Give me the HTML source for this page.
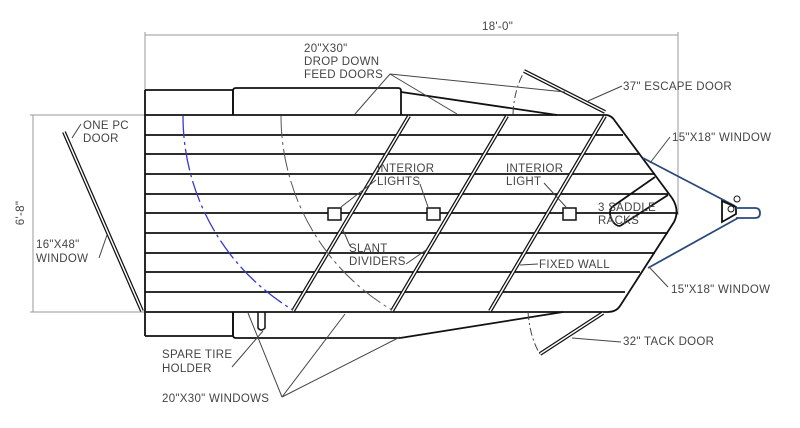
<!DOCTYPE html>
<html><head><meta charset="utf-8"><style>
html,body{margin:0;padding:0;background:#fff;}
svg{display:block;}
text{font-family:"Liberation Sans",sans-serif;font-size:11.5px;fill:#444;letter-spacing:0.3px;}
</style></head><body>
<svg width="800" height="428" viewBox="0 0 800 428" xmlns="http://www.w3.org/2000/svg">
<rect width="800" height="428" fill="#fff"/>
<g stroke="#999" stroke-width="1" fill="none">
<line x1="145" y1="35" x2="678" y2="35"/>
<line x1="145" y1="32" x2="145" y2="90"/>
<line x1="678" y1="32" x2="678" y2="215"/>
<line x1="33" y1="115" x2="33" y2="312"/>
<line x1="30" y1="115" x2="145" y2="115"/>
<line x1="30" y1="312" x2="145" y2="312"/>
</g>
<text x="482" y="30" font-size="14">18'-0"</text>
<text transform="translate(24,213) rotate(-90)" text-anchor="middle" font-size="14">6'-8"</text>
<g stroke="#111" stroke-width="1.8" fill="none">
<line x1="145" y1="115" x2="607" y2="115"/>
<line x1="145" y1="135" x2="623" y2="135"/>
<line x1="145" y1="154" x2="640" y2="154"/>
<line x1="145" y1="174" x2="655" y2="174"/>
<line x1="145" y1="194" x2="668" y2="194"/>
<line x1="145" y1="213" x2="678" y2="213"/>
<line x1="145" y1="233" x2="668" y2="233"/>
<line x1="145" y1="253" x2="655" y2="253"/>
<line x1="145" y1="272" x2="640" y2="272"/>
<line x1="145" y1="292" x2="625" y2="292"/>
<line x1="145" y1="312" x2="608" y2="312"/>
<line x1="145" y1="90" x2="145" y2="336"/>
<path d="M145 90 H233 V115"/>
<path d="M233 115 V91 Q233 88 236 88 H398 Q401 88 401 91 V115"/>
<line x1="401" y1="92" x2="557" y2="115"/>
<path d="M145 336 H233 V312"/>
<path d="M233 312 V335 Q233 338 236 338 H400"/>
<line x1="400" y1="338" x2="563" y2="312"/>
<path d="M258 312 V328 Q261 332 265 328 V312" stroke-width="1.5"/>
<path d="M607 115 Q612 116 615 121 L672 198 Q680 210 674 222 L620 306 Q616 312 608 312"/>
<line x1="612" y1="207" x2="655" y2="177"/>
<line x1="620" y1="226" x2="668" y2="195"/>
<path d="M612 207 Q608 212 612 220 Q615 226 620 226"/>
</g>
<g stroke="#111" stroke-width="4" fill="none"><line x1="409" y1="116" x2="293" y2="311"/><line x1="507" y1="116" x2="392" y2="311"/><line x1="605" y1="116" x2="490" y2="311"/><line x1="64" y1="132" x2="142" y2="311"/><line x1="524" y1="71" x2="605" y2="112"/><line x1="603" y1="313" x2="540" y2="354"/></g>
<g stroke="#fff" stroke-width="1.5" fill="none"><line x1="409" y1="116" x2="293" y2="311"/><line x1="507" y1="116" x2="392" y2="311"/><line x1="605" y1="116" x2="490" y2="311"/><line x1="64" y1="132" x2="142" y2="311"/><line x1="524" y1="71" x2="605" y2="112"/><line x1="603" y1="313" x2="540" y2="354"/></g>
<path d="M183 116 A226 226 0 0 0 293 310" stroke="#3a3acc" stroke-width="1.3" fill="none" stroke-dasharray="22 4 3 4"/>
<path d="M281 116 A226 226 0 0 0 392 310" stroke="#555" stroke-width="1" fill="none" stroke-dasharray="22 4 3 4"/>
<path d="M513 114 Q514 90 524 72" stroke="#444" stroke-width="1" fill="none" stroke-dasharray="8 3 2 3"/>
<path d="M528 312 Q530 338 540 354" stroke="#444" stroke-width="1" fill="none" stroke-dasharray="8 3 2 3"/>
<g stroke="#111" stroke-width="1.5" fill="#fff"><rect x="328" y="208" width="13" height="12"/><rect x="427" y="208" width="13" height="12"/><rect x="563" y="208" width="13" height="12"/></g>
<g stroke="#2a4a7a" stroke-width="1.8" fill="none">
<line x1="643" y1="158" x2="735" y2="206"/>
<line x1="648" y1="268" x2="738" y2="218"/>
<path d="M722 201 L736 207 L736 214 L722 222 Z" stroke="#111"/>
<path d="M736 208 H755 Q760 208 760 213 Q760 218 755 218 H736"/>
<circle cx="731" cy="209" r="3" stroke="#111" stroke-width="1"/>
<circle cx="737" cy="199" r="3" stroke="#111" stroke-width="1"/>
</g>
<g stroke="#444" stroke-width="1" fill="none">
<line x1="390" y1="74" x2="355" y2="114"/><line x1="390" y1="74" x2="457" y2="114"/><line x1="390" y1="74" x2="565" y2="92"/>
<line x1="622" y1="86" x2="588" y2="101"/>
<line x1="670" y1="137" x2="650" y2="163"/>
<line x1="376" y1="180" x2="341" y2="207"/><line x1="420" y1="184" x2="428" y2="207"/>
<line x1="544" y1="183" x2="566" y2="207"/>
<line x1="350" y1="246" x2="343" y2="230"/><line x1="406" y1="264" x2="426" y2="250"/>
<line x1="538" y1="264" x2="520" y2="265"/>
<line x1="668" y1="287" x2="650" y2="268"/>
<line x1="621" y1="342" x2="572" y2="338"/>
<line x1="81" y1="124" x2="72" y2="138"/>
<line x1="99" y1="258" x2="107" y2="235"/>
<line x1="232" y1="367" x2="263" y2="331"/>
<line x1="282" y1="397" x2="248" y2="313"/><line x1="282" y1="397" x2="345" y2="314"/><line x1="282" y1="397" x2="400" y2="337"/>
</g>
<text x="304" y="52">20"X30"</text>
<text x="304" y="65">DROP DOWN</text>
<text x="304" y="78">FEED DOORS</text>
<text x="623" y="90">37" ESCAPE DOOR</text>
<text x="672" y="141">15"X18" WINDOW</text>
<text x="377" y="172">INTERIOR</text>
<text x="377" y="185">LIGHTS</text>
<text x="506" y="172">INTERIOR</text>
<text x="506" y="185">LIGHT</text>
<text x="598" y="211">3 SADDLE</text>
<text x="598" y="224">RACKS</text>
<text x="349" y="252">SLANT</text>
<text x="349" y="265">DIVIDERS</text>
<text x="539" y="268">FIXED WALL</text>
<text x="671" y="293">15"X18" WINDOW</text>
<text x="623" y="345">32" TACK DOOR</text>
<text x="83" y="129">ONE PC</text>
<text x="83" y="142">DOOR</text>
<text x="36" y="248">16"X48"</text>
<text x="36" y="262">WINDOW</text>
<text x="162" y="358">SPARE TIRE</text>
<text x="162" y="372">HOLDER</text>
<text x="162" y="402">20"X30" WINDOWS</text>
</svg>
</body></html>
